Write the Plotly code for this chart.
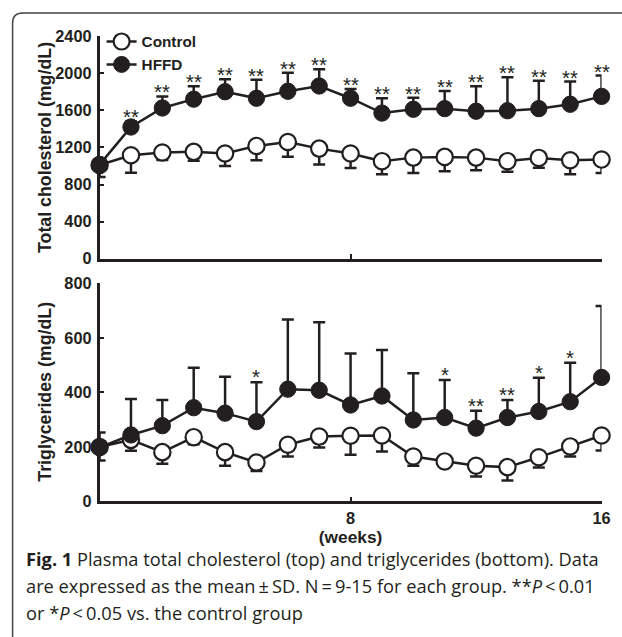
import plotly.graph_objects as go

# figure canvas (slightly larger than the window; overflow is hidden)
FW, FH = 640, 660
# calibration between figure pixels and the photographed picture
SX, OX = 0.986, -1.6
SY, OY = 0.974, 6.9
K = 1.02  # size compensation for fonts/markers

weeks = list(range(17))

# Total cholesterol (mg/dL)
tc_control = [1010, 1116, 1145, 1152, 1134, 1216, 1259, 1187, 1134, 1052, 1090, 1098, 1090, 1052, 1087, 1062, 1069]
tc_control_sd = [130, 190, 80, 95, 135, 155, 160, 170, 155, 140, 165, 155, 135, 115, 105, 150, 145]
tc_hffd = [1015, 1420, 1625, 1720, 1800, 1730, 1805, 1862, 1730, 1570, 1611, 1618, 1590, 1595, 1618, 1665, 1750]
tc_hffd_sd = [40, 60, 125, 140, 135, 200, 200, 180, 100, 160, 125, 190, 270, 360, 300, 245, 225]
tc_sig = ["", "**", "**", "**", "**", "**", "**", "**", "**", "**", "**", "**", "**", "**", "**", "**", "**"]

# Triglycerides (mg/dL)
tg_control = [200, 226, 181, 236, 181, 143, 208, 238, 241, 242, 165, 147, 131, 126, 162, 202, 242]
tg_control_sd = [50, 40, 43, 26, 50, 31, 43, 40, 70, 59, 34, 20, 39, 49, 37, 37, 55]
tg_hffd = [198, 244, 278, 344, 324, 293, 412, 408, 354, 387, 299, 308, 269, 308, 330, 366, 455]
tg_hffd_sd = [55, 132, 94, 147, 134, 144, 256, 250, 189, 169, 171, 138, 64, 64, 124, 143, 262]
tg_sig = ["", "", "", "", "", "*", "", "", "", "", "", "*", "**", "**", "*", "*", ""]

x_ticks = [8, 16]
tc_ticks = [0, 400, 800, 1200, 1600, 2000, 2400]
tg_ticks = [0, 200, 400, 600, 800]

tc_title = "<b>Total cholesterol (mg/dL)</b>"
tg_title = "<b>Triglycerides (mg/dL)</b>"
x_title = "<b>(weeks)</b>"

caption_lines = [
    "<b>Fig. 1</b> Plasma total cholesterol (top) and triglycerides (bottom). Data",
    "are expressed as the mean\u2009\u00b1\u2009SD. N\u2009=\u20099-15 for each group. **<i>P</i>\u2009<\u20090.01",
    "or *<i>P</i>\u2009<\u20090.05 vs. the control group",
]

INK = "#231f20"
AX_FONT = dict(family="Liberation Sans, Arial, sans-serif", size=16 * K, color=INK)
CAP_FONT = dict(family="Open Sans, Noto Sans, sans-serif", size=18.0 / SX, color=INK)


def px_x(p):
    return ((p - OX) / SX) / FW


def px_y(p):
    return 1 - ((p - OY) / SY) / FH


fig = go.Figure()


def add_panel(xa, ya, ctrl, ctrl_sd, hffd, hffd_sd, legend):
    fig.add_trace(go.Scatter(
        x=weeks, y=ctrl, name="Control", mode="lines+markers",
        xaxis=xa, yaxis=ya, cliponaxis=False, showlegend=legend,
        line=dict(color=INK, width=2.5),
        marker=dict(size=16 * K, color="white", line=dict(color=INK, width=2.2)),
        error_y=dict(type="data", symmetric=False, array=[0] * len(ctrl), arrayminus=ctrl_sd,
                     color=INK, thickness=2.5, width=6),
    ))
    fig.add_trace(go.Scatter(
        x=weeks, y=hffd, name="HFFD", mode="lines+markers",
        xaxis=xa, yaxis=ya, cliponaxis=False, showlegend=legend,
        line=dict(color=INK, width=2.5),
        marker=dict(size=16 * K, color=INK, line=dict(color=INK, width=1)),
        error_y=dict(type="data", symmetric=False, array=hffd_sd, arrayminus=[0] * len(hffd),
                     color=INK, thickness=2.5, width=6),
    ))


add_panel("x", "y", tc_control, tc_control_sd, tc_hffd, tc_hffd_sd, True)
add_panel("x2", "y2", tg_control, tg_control_sd, tg_hffd, tg_hffd_sd, False)

STAR_FONT = dict(AX_FONT, size=20 * K)
annotations = []
for w, m, s, t in zip(weeks, tc_hffd, tc_hffd_sd, tc_sig):
    if t:
        annotations.append(dict(x=w, y=m + s, xref="x", yref="y", text=t, showarrow=False,
                                yanchor="bottom", yshift=-9, font=STAR_FONT))
for w, m, s, t in zip(weeks, tg_hffd, tg_hffd_sd, tg_sig):
    if t:
        annotations.append(dict(x=w, y=m + s, xref="x2", yref="y2", text=t, showarrow=False,
                                yanchor="bottom", yshift=-8, font=STAR_FONT))

# y-axis titles (rotated)
for txt, yc in ((tc_title, 146), (tg_title, 390)):
    annotations.append(dict(x=px_x(43.5), y=px_y(yc), xref="paper", yref="paper", text=txt,
                            textangle=-90, showarrow=False, xanchor="center", yanchor="middle",
                            font=dict(AX_FONT, size=17.8)))

cap_y = [557, 584, 611]
for line, yy in zip(caption_lines, cap_y):
    annotations.append(dict(x=px_x(22), y=px_y(yy), xref="paper", yref="paper", text=line,
                            showarrow=False, xanchor="left", yanchor="middle", align="left",
                            font=CAP_FONT))

xdom = [px_x(98), px_x(600)]
axis_common = dict(showline=True, linecolor=INK, linewidth=2.5, showgrid=False, zeroline=False,
                   ticks="inside", tickcolor=INK, tickwidth=2, ticklen=5,
                   tickfont=dict(AX_FONT, weight="bold"))

fig.update_layout(
    width=FW, height=FH,
    margin=dict(l=0, r=0, t=0, b=0),
    paper_bgcolor="white", plot_bgcolor="white",
    showlegend=True,
    legend=dict(x=px_x(100), y=px_y(23), xanchor="left", yanchor="top",
                font=dict(AX_FONT, size=15 * K, weight="bold"), bgcolor="rgba(0,0,0,0)",
                itemwidth=30, tracegroupgap=0),
    xaxis=dict(axis_common, domain=xdom, range=[0, 16], tickvals=x_ticks, showticklabels=False,
               anchor="y"),
    yaxis=dict(axis_common, domain=[px_y(257), px_y(34)], range=[0, 2400], tickvals=tc_ticks,
               anchor="x", ticklabelstandoff=2),
    xaxis2=dict(axis_common, domain=xdom, range=[0, 16], tickvals=x_ticks, anchor="y2",
                ticklabelstandoff=0,
                title=dict(text=x_title, standoff=0, font=dict(AX_FONT, size=17 * K))),
    yaxis2=dict(axis_common, domain=[px_y(500), px_y(281.7)], range=[0, 800], tickvals=tg_ticks,
                anchor="x2", ticklabelstandoff=2),
    annotations=annotations,
    shapes=[dict(type="path", xref="paper", yref="paper",
                 path=f"M {px_x(11)},{px_y(645)} L {px_x(11)},{px_y(21)} Q {px_x(11)},{px_y(11)} {px_x(21)},{px_y(11)} L {px_x(640)},{px_y(11)}",
                 line=dict(color="#444444", width=1.5))],
)

fig.write_html("out.html", config={"displayModeBar": False},
               post_script="document.body.style.margin='0px';document.body.style.overflow='hidden';")
